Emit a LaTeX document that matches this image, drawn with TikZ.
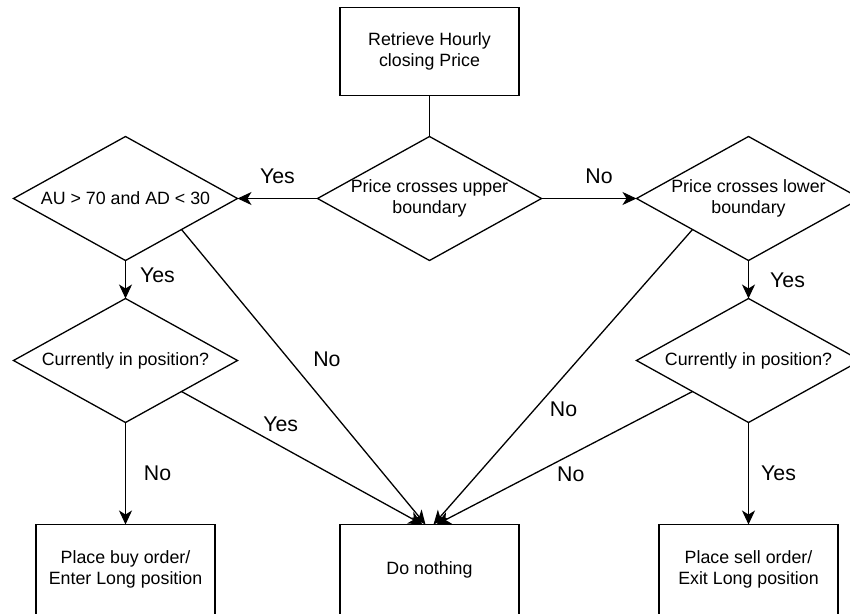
\documentclass[tikz,border=0pt]{standalone}
\usepackage{fontspec}
\setmainfont{Liberation Sans}
\usetikzlibrary{shapes.geometric,
                arrows.meta,
                positioning}
\tikzset{process/.style =
   {rectangle,
    draw,
    line width=1.3pt,
    outer sep=0pt,
    align=center,
    minimum width=179pt,
    minimum height=88pt,
    font=\fontsize{17.8}{21.5}\selectfont}}
\tikzset{decision/.style =
   {diamond,
    draw,
    line width=1.3pt,
    outer sep=0pt,
    inner sep=0pt,
    minimum width=224pt,
    minimum height=124pt}}
\tikzset{decision-text/.style =
   {align=center,
    font=\fontsize{17.8}{21.5}\selectfont}}
\tikzset{edge-label/.style = {font=\fontsize{21.3}{24}\selectfont}}
\tikzset{arrow/.style = {draw, line width=1.3pt, -{Stealth[length=14pt, width=13pt, inset=4pt]}}}
\tikzset{line/.style = {draw, line width=1.3pt}}

\begin{document}
\begin{tikzpicture}[x=1pt, y=-1pt]

    \useasboundingbox (0,0) rectangle (850,613);
    \clip (0,0) rectangle (850,613);

    \node [process] (retrieve) at (429.5,51.5) {Retrieve Hourly\\closing Price};

    \node [decision,
           below = 41pt of retrieve,
           label={[decision-text]center:Price crosses upper\\boundary}] (upper) {};

    \node [decision,
           left = 80pt of upper,
           label={[decision-text]center:AU > 70 and AD < 30}] (rsi) {};

    \node [decision,
           right = 95pt of upper,
           label={[decision-text]center:Price crosses lower\\boundary}] (lower) {};

    \node [decision,
           below = 38pt of rsi,
           label={[decision-text]center:Currently in position?}] (posbuy) {};

    \node [decision,
           below = 38pt of lower,
           label={[decision-text]center:Currently in position?}] (possell) {};

    \node [process,
           minimum height=90pt,
           below = 102pt of posbuy] (buy) {Place buy order/\\Enter Long position};

    \node [process,
           minimum height=90pt,
           below = 264pt of upper] (nothing) {Do nothing};

    \node [process,
           minimum height=90pt,
           below = 102pt of possell] (sell) {Place sell order/\\Exit Long position};

    % main branch
    \path [line] (retrieve) -- (upper);
    \path [arrow] (upper.west) -- (rsi.east)
     node [edge-label, midway, yshift=22pt] {Yes};
    \path [arrow] (upper.east) -- (lower.west)
     node [edge-label, midway, xshift=10pt, yshift=22pt] {No};

    % buy side
    \path [arrow] (rsi.south) -- (posbuy.north)
     node [edge-label, midway, xshift=32pt, yshift=4pt] {Yes};
    \path [arrow] (posbuy.south) -- (buy.north)
     node [edge-label, midway, xshift=32pt] {No};

    % sell side
    \path [arrow] (lower.south) -- (possell.north)
     node [edge-label, midway, xshift=39pt, yshift=-1pt] {Yes};
    \path [arrow] (possell.south) -- (sell.north)
     node [edge-label, midway, xshift=30pt] {Yes};

    % do nothing
    \path [arrow] (rsi.south east) -- ([xshift=-4pt]nothing.north)
     node [edge-label, pos=0.44, xshift=38pt] {No};
    \path [arrow] (posbuy.south east) -- ([xshift=-7pt]nothing.north)
     node [edge-label, pos=0.25, xshift=39pt] {Yes};
    \path [arrow] (lower.south west) -- ([xshift=4pt]nothing.north)
     node [edge-label, pos=0.61, xshift=29pt] {No};
    \path [arrow] (possell.south west) -- ([xshift=7pt]nothing.north)
     node [edge-label, pos=0.62, xshift=37pt] {No};

\end{tikzpicture}
\end{document}
